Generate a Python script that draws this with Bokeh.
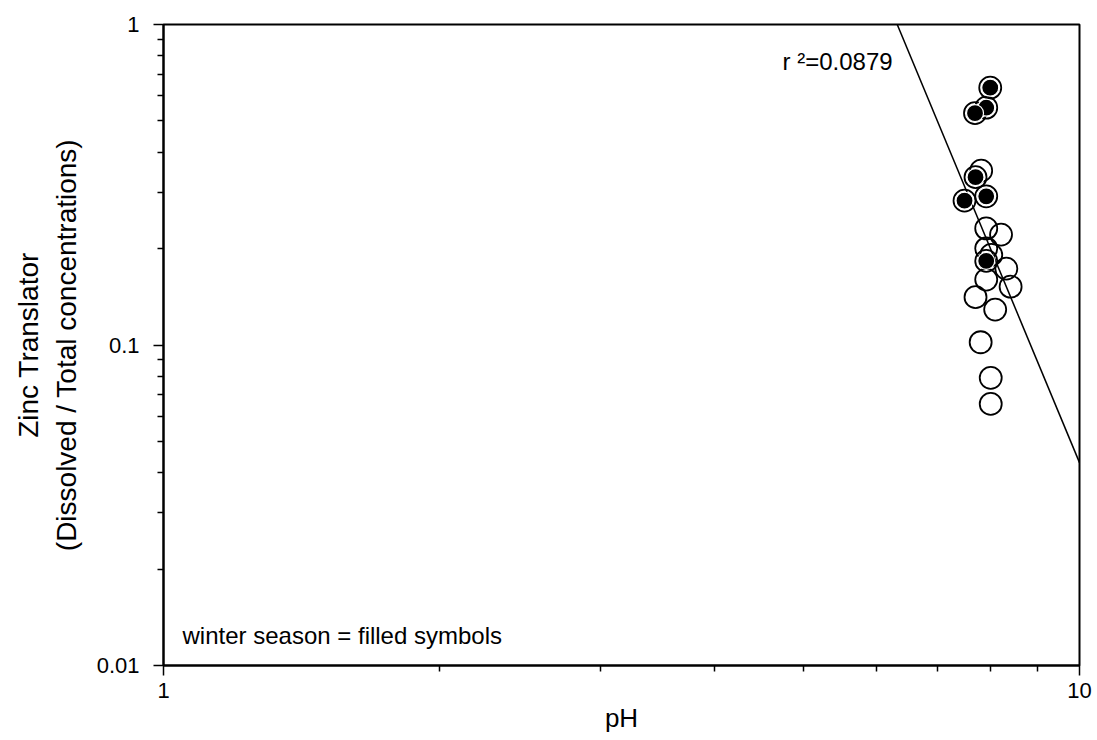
import numpy as np
from bokeh.plotting import figure
from bokeh.models import FixedTicker, CustomJSTickFormatter, Label
from bokeh.embed import file_html
from bokeh.resources import INLINE

# --- data ---
ph_winter = [7.99, 7.91, 7.69, 7.70, 7.91, 7.49, 7.91]
zt_winter = [0.635, 0.550, 0.529, 0.334, 0.291, 0.282, 0.183]

ph_summer = [7.81, 7.91, 8.21, 7.91, 8.01, 8.32, 7.91, 8.41, 7.70, 8.09, 7.80, 8.00, 8.00]
zt_summer = [0.350, 0.231, 0.221, 0.200, 0.191, 0.173, 0.160, 0.152, 0.141, 0.129, 0.102, 0.079, 0.0655]

# regression (log10 y = a + b * log10 x)
fit_a = 5.503
fit_b = -6.87
fit_ph = [6.0, 10.0]
r2_text = "r \u00b2=0.0879"
note_text = "winter season = filled symbols"

x_major = [1, 10]
x_minor = [2, 3, 4, 5, 6, 7, 8, 9]
y_major = [0.01, 0.1, 1]
y_minor = [0.02, 0.03, 0.04, 0.05, 0.06, 0.07, 0.08, 0.09,
           0.2, 0.3, 0.4, 0.5, 0.6, 0.7, 0.8, 0.9]

FONT = "Liberation Sans"

p = figure(width=1097, height=740, x_axis_type="log", y_axis_type="log",
           x_range=(1, 10), y_range=(0.01, 1),
           output_backend="svg", toolbar_location=None,
           min_border_left=163, min_border_right=18,
           min_border_top=24, min_border_bottom=75)
p.grid.visible = False
p.outline_line_color = "black"
p.outline_line_width = 2
p.background_fill_color = "white"
p.border_fill_color = "white"

for ax in (p.xaxis[0], p.yaxis[0]):
    ax.axis_line_width = 2
    ax.major_tick_line_width = 1.5
    ax.minor_tick_line_width = 1.5
    ax.major_tick_in = 0
    ax.minor_tick_in = 0
    ax.major_tick_out = 10
    ax.minor_tick_out = 6
    ax.major_label_text_font = FONT
    ax.major_label_text_font_size = "22px"
    ax.major_label_text_color = "black"
    ax.axis_label_text_font = FONT
    ax.axis_label_text_font_style = "normal"
    ax.axis_label_text_color = "black"
    ax.formatter = CustomJSTickFormatter(code="return String(tick);")

p.xaxis[0].ticker = FixedTicker(ticks=x_major, minor_ticks=x_minor)
p.yaxis[0].ticker = FixedTicker(ticks=y_major, minor_ticks=y_minor)
p.xaxis[0].major_label_standoff = 7
p.yaxis[0].major_label_standoff = 14
p.xaxis[0].axis_label = "pH"
p.xaxis[0].axis_label_text_font_size = "26px"
p.xaxis[0].axis_label_standoff = 2
p.yaxis[0].axis_label = "Zinc Translator\n(Dissolved / Total concentrations)"
p.yaxis[0].axis_label_text_font_size = "28px"
p.yaxis[0].axis_label_standoff = 12

# regression line
fit_y = [10 ** (fit_a + fit_b * np.log10(x)) for x in fit_ph]
p.line(fit_ph, fit_y, line_color="black", line_width=1.5)

# all points as open circles
p.scatter(ph_summer + ph_winter, zt_summer + zt_winter, marker="circle",
          size=22, fill_color=None, line_color="black", line_width=1.8)
# winter points filled
p.scatter(ph_winter, zt_winter, marker="circle", size=17,
          fill_color="black", line_color="white", line_width=1.2)

p.add_layout(Label(x=4.74, y=0.767, text=r2_text, text_font=FONT,
                   text_font_size="24px", text_baseline="alphabetic",
                   text_align="left", text_color="black"))
p.add_layout(Label(x=1.049, y=0.01241, text=note_text, text_font=FONT,
                   text_font_size="24px", text_baseline="alphabetic",
                   text_align="left", text_color="black"))

open("out.html", "w").write(file_html(p, INLINE))
